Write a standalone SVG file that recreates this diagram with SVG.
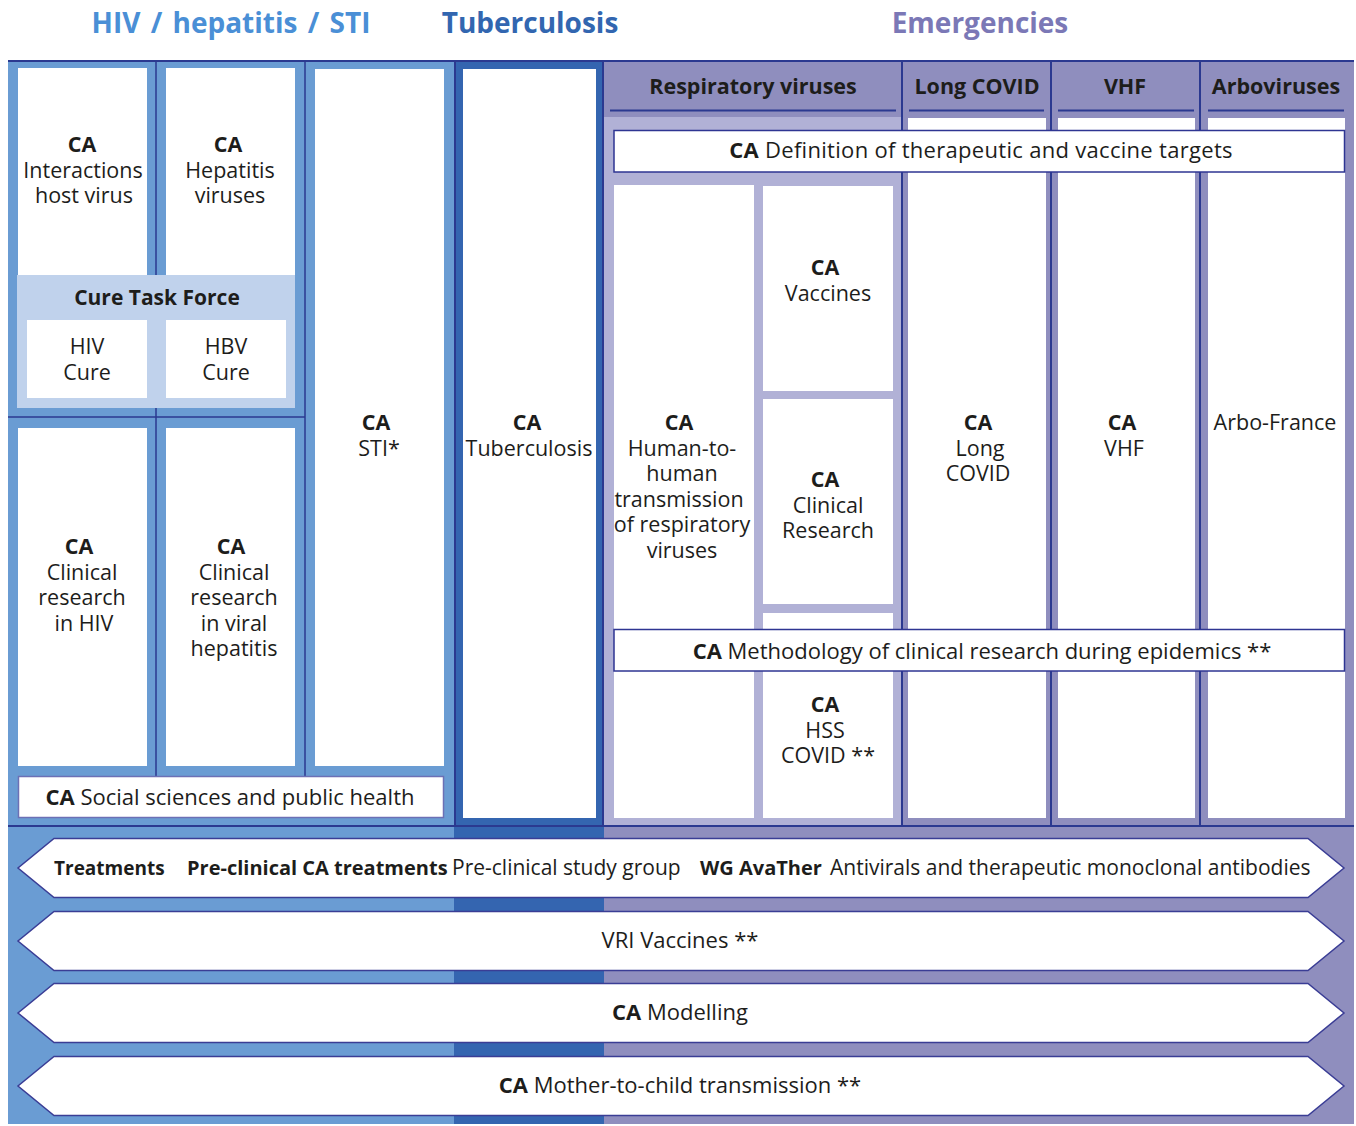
<svg xmlns="http://www.w3.org/2000/svg" width="1356" height="1126" viewBox="0 0 1356 1126">
<style>
text{font-family:"Open Sans","Noto Sans","Liberation Sans",sans-serif;fill:#1d1d1b;font-size:21.5px;text-anchor:middle}
.b{font-weight:bold}
.big{font-size:22px}
.a1{font-size:21px}
.ab{font-weight:bold;font-size:20px}
.title{font-weight:bold;font-size:28px}
.hd{font-weight:bold;font-size:21.5px}
.ctf{font-weight:bold;font-size:21px}
.st{text-anchor:start}
.w{fill:#ffffff}
.nl{stroke:#2b3990;stroke-width:2;fill:none}
.nt{stroke:#2b3990;stroke-width:1.5;fill:none}
.bx{fill:#ffffff;stroke:#2e3592;stroke-width:1.5}
.ar{fill:#ffffff;stroke:#3a3d95;stroke-width:1.5}
</style>
<g id="backgrounds">
<rect x="8" y="61" width="446" height="1063" fill="#6a9cd3"/>
<rect x="454" y="61" width="150" height="1063" fill="#3465b0"/>
<rect x="604" y="61" width="750" height="1063" fill="#8f8ebe"/>
<rect x="604" y="117" width="298" height="709" fill="#b1b1d6"/>
</g>
<g id="titles">
<text class="title" x="231" y="33" style="fill:#4a8fd6;word-spacing:3px">HIV / hepatitis / STI</text>
<text class="title" x="530" y="33" style="fill:#3266b0">Tuberculosis</text>
<text class="title" x="980" y="33" style="fill:#7b78b6">Emergencies</text>
</g>
<g id="connectors">
<line class="nl" x1="8" y1="61" x2="1354" y2="61"/>
<line class="nl" x1="8" y1="826" x2="1354" y2="826"/>
<line class="nl" x1="455" y1="61" x2="455" y2="826"/>
<line class="nl" x1="603" y1="61" x2="603" y2="826"/>
<line class="nl" x1="902" y1="61" x2="902" y2="826"/>
<line class="nl" x1="1051" y1="61" x2="1051" y2="826"/>
<line class="nl" x1="1200" y1="61" x2="1200" y2="826"/>
<line class="nt" x1="156" y1="61" x2="156" y2="776"/>
<line class="nt" x1="305" y1="61" x2="305" y2="776"/>
<line class="nt" x1="8" y1="417" x2="305" y2="417"/>
<line class="nl" x1="610" y1="110.5" x2="896" y2="110.5"/>
<line class="nl" x1="909" y1="110.5" x2="1044" y2="110.5"/>
<line class="nl" x1="1058" y1="110.5" x2="1194" y2="110.5"/>
<line class="nl" x1="1208" y1="110.5" x2="1344" y2="110.5"/>
</g>
<g id="col-headers">
<text class="hd" x="753" y="94">Respiratory viruses</text>
<text class="hd" x="977" y="94">Long COVID</text>
<text class="hd" x="1125" y="94">VHF</text>
<text class="hd" x="1276" y="94">Arboviruses</text>
</g>
<g id="ca-interactions">
<rect class="w" x="18" y="68" width="129" height="207"/>
<text x="82" y="152"><tspan class="b">CA</tspan><tspan x="83" dy="25.6">Interactions</tspan><tspan x="84" dy="25.6">host virus</tspan></text>
</g>
<g id="ca-hepatitis">
<rect class="w" x="166" y="68" width="129" height="207"/>
<text x="228" y="152"><tspan class="b">CA</tspan><tspan x="230" dy="25.6">Hepatitis</tspan><tspan x="230" dy="25.6">viruses</tspan></text>
</g>
<g id="cure-task-force">
<rect x="17" y="275" width="278" height="133" fill="#c0d2ec"/>
<text class="ctf" x="157" y="305">Cure Task Force</text>
</g>
<g id="hiv-cure">
<rect class="w" x="27" y="320" width="120" height="78"/>
<text x="87" y="354">HIV<tspan x="87" dy="25.6">Cure</tspan></text>
</g>
<g id="hbv-cure">
<rect class="w" x="166" y="320" width="120" height="78"/>
<text x="226" y="354">HBV<tspan x="226" dy="25.6">Cure</tspan></text>
</g>
<g id="ca-clinical-hiv">
<rect class="w" x="18" y="428" width="129" height="338"/>
<text x="79" y="554"><tspan class="b">CA</tspan><tspan x="82" dy="25.6">Clinical</tspan><tspan x="82" dy="25.6">research</tspan><tspan x="84" dy="25.6">in HIV</tspan></text>
</g>
<g id="ca-clinical-hepatitis">
<rect class="w" x="166" y="428" width="129" height="338"/>
<text x="231" y="554"><tspan class="b">CA</tspan><tspan x="234" dy="25.6">Clinical</tspan><tspan x="234" dy="25.6">research</tspan><tspan x="234" dy="25.6">in viral</tspan><tspan x="234" dy="25.6">hepatitis</tspan></text>
</g>
<g id="ca-sti">
<rect class="w" x="315" y="69" width="129" height="697"/>
<text x="376" y="430"><tspan class="b">CA</tspan><tspan x="379" dy="25.6">STI*</tspan></text>
</g>
<g id="ca-social">
<rect x="18.5" y="776.5" width="425" height="41" fill="#ffffff" stroke="#6c70b5" stroke-width="1.5"/>
<text class="big" x="230" y="805"><tspan class="b">CA</tspan> Social sciences and public health</text>
</g>
<g id="ca-tuberculosis">
<rect class="w" x="463" y="69" width="133" height="749"/>
<text x="527" y="430"><tspan class="b">CA</tspan><tspan x="529" dy="25.6">Tuberculosis</tspan></text>
</g>
<g id="long-covid-col">
<rect class="w" x="908" y="118" width="138" height="700"/>
<text x="978" y="430"><tspan class="b">CA</tspan><tspan x="980" dy="25.6">Long</tspan><tspan x="978" dy="25.6">COVID</tspan></text>
</g>
<g id="vhf-col">
<rect class="w" x="1058" y="118" width="137" height="700"/>
<text x="1122" y="430"><tspan class="b">CA</tspan><tspan x="1124" dy="25.6">VHF</tspan></text>
</g>
<g id="arbo-col">
<rect class="w" x="1208" y="118" width="137" height="700"/>
<text x="1275" y="430">Arbo-France</text>
</g>
<g id="ca-human-to-human">
<rect class="w" x="614" y="185" width="140" height="633"/>
<text x="679" y="430"><tspan class="b">CA</tspan><tspan x="682" dy="25.6">Human-to-</tspan><tspan x="682" dy="25.6">human</tspan><tspan x="679" dy="25.6">transmission</tspan><tspan x="682" dy="25.6">of respiratory</tspan><tspan x="682" dy="25.6">viruses</tspan></text>
</g>
<g id="ca-vaccines">
<rect class="w" x="763" y="186" width="130" height="205"/>
<text x="825" y="275"><tspan class="b">CA</tspan><tspan x="828" dy="25.6">Vaccines</tspan></text>
</g>
<g id="ca-clinical-research">
<rect class="w" x="763" y="399" width="130" height="205"/>
<text x="825" y="487"><tspan class="b">CA</tspan><tspan x="828" dy="25.6">Clinical</tspan><tspan x="828" dy="25.6">Research</tspan></text>
</g>
<g id="ca-hss-covid">
<rect class="w" x="763" y="613" width="130" height="205"/>
<text x="825" y="712"><tspan class="b">CA</tspan><tspan x="825" dy="25.6">HSS</tspan><tspan x="828" dy="25.6">COVID **</tspan></text>
</g>
<g id="ca-definition">
<rect class="bx" x="614" y="130.5" width="730.5" height="41.5"/>
<text class="big" x="981" y="158" style="letter-spacing:0.3px"><tspan class="b">CA</tspan> Definition of therapeutic and vaccine targets</text>
</g>
<g id="ca-methodology">
<rect class="bx" x="614" y="629.5" width="730.5" height="41.5"/>
<text class="big" x="982" y="659"><tspan class="b">CA</tspan> Methodology of clinical research during epidemics **</text>
</g>
<g id="treatments">
<polygon class="ar" points="54,838.5 1308,838.5 1344,868 1308,897.5 54,897.5 18,868"/>
<text class="st a1" y="875"><tspan class="ab" x="54" style="font-size:19px">Treatments</tspan><tspan class="ab" x="187">Pre-clinical CA treatments</tspan><tspan x="452">Pre-clinical study group</tspan><tspan class="ab" x="700">WG AvaTher</tspan><tspan x="830">Antivirals and therapeutic monoclonal antibodies</tspan></text>
</g>
<g id="vri-vaccines">
<polygon class="ar" points="54,911.5 1308,911.5 1344,941 1308,970.5 54,970.5 18,941"/>
<text class="big" x="680" y="948">VRI Vaccines **</text>
</g>
<g id="ca-modelling">
<polygon class="ar" points="54,983.5 1308,983.5 1344,1013 1308,1042.5 54,1042.5 18,1013"/>
<text class="big" x="680" y="1020"><tspan class="b">CA</tspan> Modelling</text>
</g>
<g id="ca-mother-to-child">
<polygon class="ar" points="54,1056.5 1308,1056.5 1344,1086 1308,1115.5 54,1115.5 18,1086"/>
<text class="big" x="680" y="1093"><tspan class="b">CA</tspan> Mother-to-child transmission **</text>
</g>
</svg>
